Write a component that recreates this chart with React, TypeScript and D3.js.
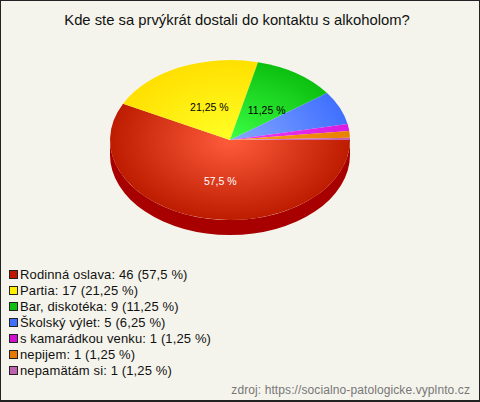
import { useEffect } from "react";
import * as d3 from "d3";

const categories = ["Rodinná oslava", "Partia", "Bar, diskotéka", "Školský výlet", "s kamarádkou venku", "nepijem", "nepamätám si"];
const counts = [46, 17, 9, 5, 1, 1, 1];
const percents = ["57,5", "21,25", "11,25", "6,25", "1,25", "1,25", "1,25"];
// slice sizes as they are drawn in the picture (the small ones come out uneven there)
const drawnShares = [57.5, 21.25, 11.25, 6.8, 1.39, 1.36, 0.45];
const sliceLabels = ["57,5 %", "21,25 %", "11,25 %", "", "", "", ""];
const labelColors = ["#ffffff", "#000000", "#000000", "", "", "", ""];
const innerColors = ["#ff5c3c", "#ffff26", "#3cff44", "#86a8ff", "#f03cf4", "#ffa020", "#e080d0"];
const outerColors = ["#bd1c00", "#ffe000", "#0cc010", "#4070ff", "#d81ce0", "#e88000", "#c060b0"];
const legendColors = ["#c01800", "#ffee00", "#10c010", "#4070ff", "#d010d0", "#e87800", "#c060b0"];

const title = "Kde ste sa prvýkrát dostali do kontaktu s alkoholom?";
const source = "zdroj: https://socialno-patologicke.vyplnto.cz";

const W = 480;
const H = 402;
const cx = 230;
const cy = 140;
const rx = 120;
const ry = 80;
const depth = 15;

export default function App() {
  useEffect(() => {
    document.body.style.margin = "0";
  }, []);

  const pie = d3
    .pie<number>()
    .sort(null)
    .startAngle(Math.PI / 2)
    .endAngle(Math.PI / 2 + 2 * Math.PI);
  const arcs = pie(drawnShares);
  const arc = d3.arc<d3.PieArcDatum<number>>().innerRadius(0).outerRadius(rx);

  // label sits about halfway out along the middle of the slice
  const labelPos = (i: number) => {
    const a = (arcs[i].startAngle + arcs[i].endAngle) / 2 - Math.PI / 2;
    return [cx + 4 + Math.cos(a) * rx * 0.49, cy + 3 + Math.sin(a) * ry * 0.49];
  };

  const legendY = d3.scalePoint<number>().domain(d3.range(categories.length)).range([274, 370]);

  return (
    <svg width={W} height={H} viewBox={`0 0 ${W} ${H}`} style={{ display: "block" }} fontFamily="'Liberation Sans', Arial, sans-serif">
      <defs>
        {innerColors.map((c, i) => (
          <radialGradient key={i} id={`g${i}`} gradientUnits="userSpaceOnUse" cx={0} cy={0} r={rx}>
            <stop offset="0%" stopColor={c} />
            <stop offset="100%" stopColor={outerColors[i]} />
          </radialGradient>
        ))}
      </defs>
      <rect x={0.5} y={0.5} width={W - 1} height={H - 1} fill="#f5f4ec" stroke="#222" strokeWidth={1} />
      <rect x={0} y={H - 2} width={W} height={2} fill="#222" />
      <text x={237} y={25} textAnchor="middle" fontSize={14.8} fill="#111">{title}</text>

      <path
        d={`M${cx - rx},${cy} A${rx},${ry} 0 0 0 ${cx + rx},${cy} L${cx + rx},${cy + depth} A${rx},${ry} 0 0 1 ${cx - rx},${cy + depth} Z`}
        fill="#a80000"
      />
      <g transform={`translate(${cx},${cy}) scale(1,${ry / rx})`}>
        {arcs.map((d, i) => (
          <path key={i} d={arc(d) ?? ""} fill={`url(#g${i})`} />
        ))}
      </g>
      {sliceLabels.map((t, i) => {
        if (!t) return null;
        const [x, y] = labelPos(i);
        return (
          <text key={i} x={x} y={y} textAnchor="middle" dominantBaseline="central" fontSize={10.5} fill={labelColors[i]}>
            {t}
          </text>
        );
      })}

      {categories.map((c, i) => {
        const y = legendY(i) ?? 0;
        return (
          <g key={i}>
            <rect x={9.5} y={y - 3.5} width={8} height={8} fill={legendColors[i]} stroke="#222" />
            <text x={20} y={y + 5} fontSize={13} letterSpacing={0.13} fill="#111">
              {`${c}: ${counts[i]} (${percents[i]} %)`}
            </text>
          </g>
        );
      })}

      <text x={470} y={394} textAnchor="end" fontSize={12} letterSpacing={0.1} fill="#777">{source}</text>
    </svg>
  );
}
